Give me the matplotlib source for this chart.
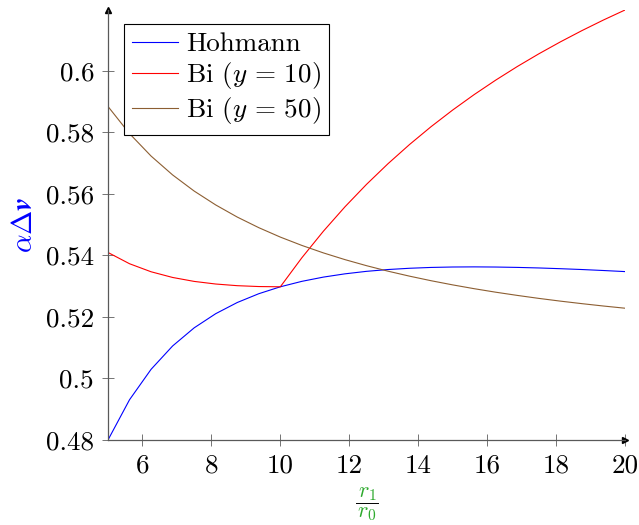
import matplotlib
matplotlib.use('Agg')
import matplotlib.pyplot as plt
from matplotlib.lines import Line2D
from matplotlib.ticker import FuncFormatter

plt.rcParams['font.family'] = ['cmr10', 'DejaVu Serif']
plt.rcParams['mathtext.fontset'] = 'cm'
plt.rcParams['axes.formatter.use_mathtext'] = True
plt.rcParams['font.size'] = 19.5

# Radius ratio r1/r0 (25 samples from 5 to 20)
ratio = [5, 5.625, 6.25, 6.875, 7.5, 8.125, 8.75, 9.375, 10, 10.625, 11.25, 11.875,
         12.5, 13.125, 13.75, 14.375, 15, 15.625, 16.25, 16.875, 17.5, 18.125,
         18.75, 19.375, 20]

hohmann = [0.48001, 0.49309, 0.50297, 0.51056, 0.51645, 0.52105, 0.52468, 0.52754,
           0.52979, 0.53156, 0.53294, 0.53400, 0.53481, 0.53540, 0.53581, 0.53608,
           0.53622, 0.53626, 0.53621, 0.53609, 0.53591, 0.53567, 0.53540, 0.53508,
           0.53473]

bi_10 = [0.54094, 0.53728, 0.53467, 0.53282, 0.53154, 0.53069, 0.53015, 0.52987,
         0.52979, 0.53923, 0.54786, 0.55578, 0.56307, 0.56980, 0.57604, 0.58184,
         0.58723, 0.59226, 0.59696, 0.60137, 0.60550, 0.60938, 0.61304, 0.61649,
         0.61974]

bi_50 = [0.58839, 0.57957, 0.57227, 0.56614, 0.56090, 0.55639, 0.55245, 0.54900,
         0.54594, 0.54323, 0.54080, 0.53862, 0.53665, 0.53486, 0.53324, 0.53176,
         0.53041, 0.52917, 0.52803, 0.52699, 0.52602, 0.52513, 0.52431, 0.52354,
         0.52283]

x_ticks = [6, 8, 10, 12, 14, 16, 18, 20]
y_ticks = [0.48, 0.5, 0.52, 0.54, 0.56, 0.58, 0.6]

green = '#2eaa2e'

fig = plt.figure(figsize=(6.39, 5.25), dpi=100)
ax = fig.add_axes([108 / 639, 1 - 440 / 525, 517 / 639, 430 / 525])

ax.plot(ratio, hohmann, color='#0000ff', lw=0.8, label='Hohmann')
ax.plot(ratio, bi_10, color='#ff0000', lw=0.8, label=r'Bi $(y\,=\,10)$')
ax.plot(ratio, bi_50, color='#8c5e32', lw=0.8, label=r'Bi $(y\,=\,50)$')

ax.set_xlim(5, 20)
ax.set_ylim(0.48, max(bi_10))
ax.set_xticks(x_ticks)
ax.set_yticks(y_ticks)
ax.xaxis.set_major_formatter(FuncFormatter(lambda v, p: '%g' % v))
ax.yaxis.set_major_formatter(FuncFormatter(lambda v, p: '%g' % v))

# axis lines=left style
for side in ['top', 'right']:
    ax.spines[side].set_visible(False)
for side in ['left', 'bottom']:
    ax.spines[side].set_color('0.35')
    ax.spines[side].set_linewidth(0.9)
ax.tick_params(direction='inout', length=8, width=0.7, color='0.45', pad=6)
ax.plot(1, 0, '>k', transform=ax.transAxes, clip_on=False, markersize=5)
ax.plot(0, 1, '^k', transform=ax.transAxes, clip_on=False, markersize=5)

ax.set_ylabel(r'$\alpha\boldsymbol{\Delta v}$', color='#0000ff', labelpad=6, fontsize=21)

# x label: green fraction with black bar
fig.text(367 / 639, 1 - 493 / 525, r'$r_1$', color=green, ha='center', va='center', fontsize=16)
fig.text(367 / 639, 1 - 513 / 525, r'$r_0$', color=green, ha='center', va='center', fontsize=16)
fig.add_artist(Line2D([356 / 639, 378 / 639], [1 - 502.5 / 525, 1 - 502.5 / 525],
                      color='black', lw=0.7, transform=fig.transFigure))

leg = ax.legend(loc='upper left', bbox_to_anchor=(0.031, 0.967), borderaxespad=0,
                fancybox=False, edgecolor='black', framealpha=1, handlelength=1.7,
                handletextpad=0.3, labelspacing=0.15, borderpad=0.3)
leg.get_frame().set_linewidth(0.8)

fig.savefig('out.png', dpi=100)
